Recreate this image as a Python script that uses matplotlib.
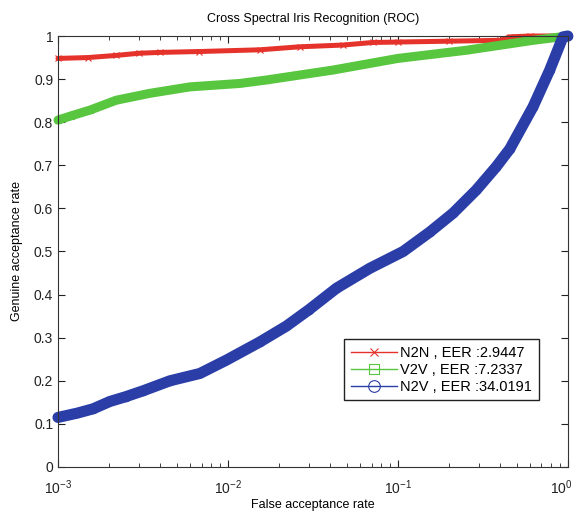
import numpy as np
import matplotlib.pyplot as plt
import matplotlib.transforms as mtransforms
from matplotlib.ticker import FixedLocator, LogLocator, NullFormatter

plt.rcParams['font.family'] = ['Liberation Sans', 'DejaVu Sans']
plt.rcParams['mathtext.fontset'] = 'custom'
plt.rcParams['mathtext.rm'] = 'Liberation Sans'

# ROC points (false acceptance rate, genuine acceptance rate)
far_n2n = [1e-3, 1.5e-3, 2.2e-3, 3e-3, 4e-3, 6.8e-3, 0.0154, 0.0265, 0.0474,
           0.0713, 0.1, 0.2, 0.4, 0.456, 0.6, 1.0]
gar_n2n = [0.948, 0.950, 0.955, 0.960, 0.962, 0.964, 0.968, 0.975, 0.979,
           0.985, 0.986, 0.988, 0.990, 0.998, 1.0, 1.0]

far_v2v = [1e-3, 1.2e-3, 1.54e-3, 2.2e-3, 3.47e-3, 5.98e-3, 0.0118, 0.0169,
           0.0415, 0.1, 0.2535, 0.625, 1.0]
gar_v2v = [0.805, 0.815, 0.828, 0.851, 0.867, 0.882, 0.890, 0.898,
           0.921, 0.948, 0.967, 0.990, 1.0]

far_n2v = [1e-3, 1.3e-3, 1.61e-3, 2.02e-3, 2.5e-3, 3.18e-3, 4.56e-3, 6.84e-3,
           9.8e-3, 0.0154, 0.0221, 0.030, 0.0436, 0.0684, 0.1074, 0.154,
           0.2114, 0.29, 0.38, 0.456, 0.625, 0.783, 0.937, 1.0]
gar_n2v = [0.115, 0.125, 0.135, 0.152, 0.163, 0.177, 0.200, 0.217,
           0.248, 0.290, 0.327, 0.365, 0.415, 0.461, 0.500, 0.545,
           0.589, 0.643, 0.697, 0.738, 0.836, 0.921, 0.998, 1.0]

labels = ['N2N , EER :2.9447', 'V2V , EER :7.2337', 'N2V , EER :34.0191']
colors = ['#e5322a', '#58c63e', '#2b3ea8']

fig = plt.figure(figsize=(5.77, 5.13), dpi=100)
ax = fig.add_axes([0.1005, 0.0897, 0.8835, 0.8401])

series = [(far_n2n, gar_n2n, 'x', 3.6, 4),
          (far_v2v, gar_v2v, 's', 6.5, 5),
          (far_n2v, gar_n2v, 'o', 8.0, 6)]
handles = []
for (x, y, m, bw, ms), c, lab in zip(series, colors, labels):
    # dense markers in the original merge into a solid band
    ax.plot(x, y, color=c, lw=bw, solid_capstyle='round',
            solid_joinstyle='round', clip_on=False)
    h, = ax.plot(x, y, color=c, lw=1, marker=m, ms=ms, mfc='none',
                 mec=c, mew=0.8, label=lab, clip_on=False)
    handles.append(h)

ax.set_xscale('log')
ax.set_xlim(1e-3, 1)
ax.set_ylim(0, 1)
ax.set_xticks([1e-3, 1e-2, 1e-1, 1])
ax.set_xticklabels([r'$\mathrm{10^{-3}}$', r'$\mathrm{10^{-2}}$',
                    r'$\mathrm{10^{-1}}$', r'$\mathrm{10^{0}}$'])
ax.yaxis.set_major_locator(FixedLocator(np.arange(0, 1.01, 0.1)))
ax.set_yticklabels(['0', '0.1', '0.2', '0.3', '0.4', '0.5', '0.6', '0.7',
                    '0.8', '0.9', '1'])
ax.xaxis.set_minor_locator(LogLocator(base=10, subs=np.arange(2, 10)))
ax.xaxis.set_minor_formatter(NullFormatter())
ax.tick_params(which='both', direction='in', top=True, right=True,
               labelsize=10, colors='#222222')
ax.tick_params(which='major', length=5)
ax.tick_params(which='minor', length=3)
ax.tick_params(axis='x', pad=8)
for s in ax.spines.values():
    s.set_color('#333333')

# keep the last x label inside the figure
last = ax.xaxis.get_major_ticks()[-1].label1
last.set_transform(last.get_transform() +
                   mtransforms.ScaledTranslation(-5 / 72, 0, fig.dpi_scale_trans))

ax.set_title('Cross Spectral Iris Recognition (ROC)', fontsize=9, pad=10)
ax.set_xlabel('False acceptance rate', fontsize=9, labelpad=2)
ax.set_ylabel('Genuine acceptance rate', fontsize=9, labelpad=8)

leg = ax.legend(handles=handles, loc='lower right',
                bbox_to_anchor=(0.943, 0.155), borderaxespad=0, fontsize=10.5,
                fancybox=False, edgecolor='#222222', framealpha=1,
                handlelength=3.2, borderpad=0.45, labelspacing=0.2,
                handletextpad=0.2, markerscale=1.4)
leg.get_frame().set_linewidth(1)

fig.savefig('out.png', dpi=100)
